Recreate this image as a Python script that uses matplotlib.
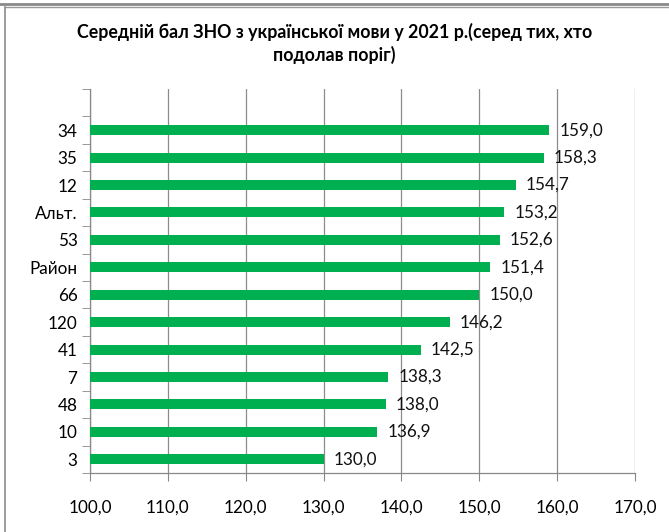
import numpy as np
import matplotlib.pyplot as plt
from matplotlib.lines import Line2D
from matplotlib.ticker import FixedLocator

# Data (top to bottom)
schools = ['34', '35', '12', 'Альт.', '53', 'Район', '66', '120', '41', '7', '48', '10', '3']
scores = [159.0, 158.3, 154.7, 153.2, 152.6, 151.4, 150.0, 146.2, 142.5, 138.3, 138.0, 136.9, 130.0]
x_ticks = [100, 110, 120, 130, 140, 150, 160, 170]

plt.rcParams['font.family'] = ['Lato', 'DejaVu Sans']

W, H = 669, 532
fig = plt.figure(figsize=(W / 100, H / 100), dpi=100)

# Plot area in pixels: left 90, right 635, top 89, bottom 473
ax = fig.add_axes([90 / W, 1 - 473 / H, 545 / W, 384 / H])

# Bars from the bottom up so the first item is on top (one empty slot above)
y = np.arange(len(schools))[::-1]
ax.barh(y, np.array(scores) - 100, left=100, height=0.36, color='#00B050', zorder=3)

# Value labels
for yi, v in zip(y, scores):
    ax.text(v + 1.3, yi, f'{v:.1f}'.replace('.', ','), va='center', ha='left',
            fontsize=12.3, color='#111111', zorder=4)

# Axes setup
ax.set_xlim(100, 170)
ax.set_ylim(-0.5, len(schools) + 0.5)
ax.set_xticks(x_ticks)
ax.set_xticklabels([f'{t:.1f}'.replace('.', ',') for t in x_ticks], fontsize=12.3)
ax.set_yticks(y)
ax.set_yticklabels(schools, fontsize=12.3)
ax.tick_params(axis='y', length=0, pad=9)
ax.tick_params(axis='x', length=6, color='#888888', pad=13, direction='out')

# Minor ticks on the category axis at boundaries
ax.yaxis.set_minor_locator(FixedLocator(np.arange(-0.5, len(schools) + 1, 1.0)))
ax.tick_params(axis='y', which='minor', length=6, color='#888888', direction='out')

ax.grid(axis='x', color='#8c8c8c', linewidth=0.9, zorder=0)
for s in ['top', 'right']:
    ax.spines[s].set_visible(False)
for s in ['left', 'bottom']:
    ax.spines[s].set_color('#888888')
    ax.spines[s].set_linewidth(0.9)

# Title
fig.text(0.5, 1 - 32 / H, 'Середній бал ЗНО з української мови у 2021 р.(серед тих, хто',
         ha='center', va='center', fontsize=12.8, fontweight='bold')
fig.text(0.5, 1 - 55 / H, 'подолав поріг)',
         ha='center', va='center', fontsize=12.8, fontweight='bold')

# Outer frame lines
fig.add_artist(Line2D([0, 1], [1 - 3.5 / H, 1 - 3.5 / H], transform=fig.transFigure,
                      color='#8a8a8a', linewidth=2))
fig.add_artist(Line2D([4.5 / W, 1], [1 - 6.5 / H, 1 - 6.5 / H], transform=fig.transFigure,
                      color='#9a9a9a', linewidth=1))
fig.add_artist(Line2D([4.5 / W, 4.5 / W], [0, 1 - 6.5 / H], transform=fig.transFigure,
                      color='#8a8a8a', linewidth=1.2))

plt.savefig('out.png', dpi=100)
plt.close()
